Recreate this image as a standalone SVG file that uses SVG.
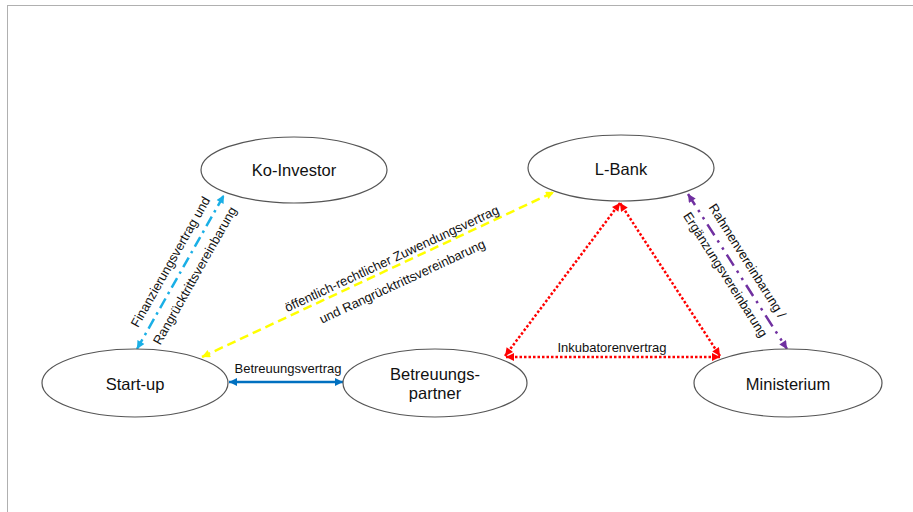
<svg xmlns="http://www.w3.org/2000/svg" width="913" height="512" viewBox="0 0 913 512">
<style>
  .node ellipse { fill: #ffffff; stroke: #555555; stroke-width: 1.2; }
  .node text { font-family: "Liberation Sans", Arial, sans-serif; font-size: 16.5px; fill: #111111; text-anchor: middle; }
  .lbl { font-family: "Liberation Sans", Arial, sans-serif; font-size: 13px; fill: #111111; text-anchor: middle; }
  .c { fill: none; stroke-width: 2.5; }
</style>
<defs>
  <marker id="mLB" viewBox="0 0 10 10" refX="10" refY="5" markerWidth="9" markerHeight="8" markerUnits="userSpaceOnUse" orient="auto-start-reverse"><path d="M0,0 L10,5 L0,10 z" fill="#1AAFE6"/></marker>
  <marker id="mY" viewBox="0 0 10 10" refX="10" refY="5" markerWidth="9" markerHeight="8" markerUnits="userSpaceOnUse" orient="auto-start-reverse"><path d="M0,0 L10,5 L0,10 z" fill="#FFFF00"/></marker>
  <marker id="mR" viewBox="0 0 10 10" refX="10" refY="5" markerWidth="9" markerHeight="8" markerUnits="userSpaceOnUse" orient="auto-start-reverse"><path d="M0,0 L10,5 L0,10 z" fill="#FF0000"/></marker>
  <marker id="mP" viewBox="0 0 10 10" refX="10" refY="5" markerWidth="9" markerHeight="8" markerUnits="userSpaceOnUse" orient="auto-start-reverse"><path d="M0,0 L10,5 L0,10 z" fill="#7030A0"/></marker>
  <marker id="mB" viewBox="0 0 10 10" refX="10" refY="5" markerWidth="9" markerHeight="8" markerUnits="userSpaceOnUse" orient="auto-start-reverse"><path d="M0,0 L10,5 L0,10 z" fill="#0070C0"/></marker>
</defs>
<rect x="0" y="0" width="913" height="512" fill="#ffffff"/>
<line x1="7" y1="5.5" x2="913" y2="5.5" stroke="#b0b0b0" stroke-width="1"/>
<line x1="7.5" y1="5" x2="7.5" y2="512" stroke="#b0b0b0" stroke-width="1"/>

<g id="connectors">
  <line class="c" x1="137" y1="349" x2="224" y2="195" stroke="#1AAFE6" stroke-dasharray="11 5 2.5 5" marker-start="url(#mLB)" marker-end="url(#mLB)"/>
  <line class="c" x1="202" y1="357" x2="554" y2="192" stroke="#FFFF00" stroke-dasharray="9 5" marker-start="url(#mY)" marker-end="url(#mY)"/>
  <line class="c" x1="505" y1="356" x2="620" y2="203" stroke="#FF0000" stroke-dasharray="2.5 2" marker-start="url(#mR)" marker-end="url(#mR)"/>
  <line class="c" x1="720" y1="356" x2="620" y2="203" stroke="#FF0000" stroke-dasharray="2.5 2" marker-start="url(#mR)" marker-end="url(#mR)"/>
  <line class="c" x1="506" y1="357" x2="720" y2="357" stroke="#FF0000" stroke-dasharray="2.5 2" marker-start="url(#mR)" marker-end="url(#mR)"/>
  <line class="c" x1="688" y1="194" x2="787" y2="349" stroke="#7030A0" stroke-dasharray="13 6 2.5 6 2.5 6" marker-start="url(#mP)" marker-end="url(#mP)"/>
  <line class="c" x1="229" y1="382" x2="343" y2="382" stroke="#0070C0" stroke-width="2.2" marker-start="url(#mB)" marker-end="url(#mB)"/>

  <g transform="translate(183,269) rotate(-60.5)">
    <text class="lbl" x="0" y="-10">Finanzierungsvertrag und</text>
    <text class="lbl" x="0" y="18">Rangrücktrittsvereinbarung</text>
  </g>
  <g transform="translate(397,270) rotate(-25)">
    <text class="lbl" x="0" y="-8">öffentlich-rechtlicher Zuwendungsvertrag</text>
    <text class="lbl" x="0" y="17">und Rangrücktrittsvereinbarung</text>
  </g>
  <g transform="translate(736,268) rotate(57.6)">
    <text class="lbl" x="0" y="-9">Rahmenvereinbarung /</text>
    <text class="lbl" x="0" y="17">Ergänzungsvereinbarung</text>
  </g>
  <text class="lbl" x="288" y="373">Betreuungsvertrag</text>
  <text class="lbl" x="612" y="352">Inkubatorenvertrag</text>
</g>

<g id="ko-investor" class="node">
  <ellipse cx="294" cy="170" rx="93" ry="33"/>
  <text x="294" y="176">Ko-Investor</text>
</g>
<g id="l-bank" class="node">
  <ellipse cx="621" cy="168" rx="93" ry="33"/>
  <text x="621" y="175">L-Bank</text>
</g>
<g id="start-up" class="node">
  <ellipse cx="135" cy="383" rx="93" ry="34"/>
  <text x="135" y="390">Start-up</text>
</g>
<g id="betreuungspartner" class="node">
  <ellipse cx="435" cy="383" rx="92" ry="34"/>
  <text x="435" y="380">Betreuungs-</text>
  <text x="435" y="399">partner</text>
</g>
<g id="ministerium" class="node">
  <ellipse cx="788" cy="383" rx="94" ry="34"/>
  <text x="788" y="390">Ministerium</text>
</g>
</svg>
